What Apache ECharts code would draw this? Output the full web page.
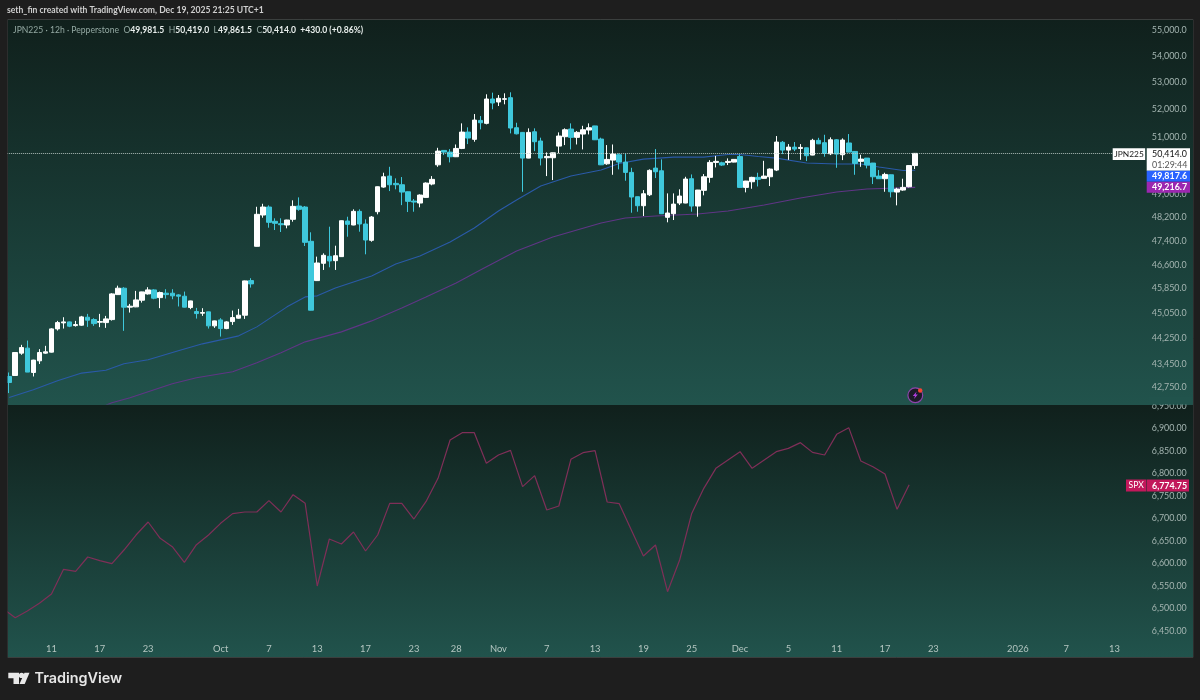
<!DOCTYPE html>
<html><head><meta charset="utf-8">
<style>html,body{margin:0;padding:0;background:#1e1e1e}#c{width:1200px;height:700px}</style>
<script src="https://cdn.jsdelivr.net/npm/echarts@6/dist/echarts.min.js"></script>
</head><body><div id="c"></div>
<script>
const tickBars=[7,15,23,35,43,51,59,67,74,81,89,97,105,113,121,129,137,145,153,167,175,183];
const tickLabels=['11','17','23','Oct','7','13','17','23','28','Nov','7','13','19','25','Dec','5','11','17','23','2026','7','13'];
const priceTicks=[55000,54000,53000,52000,51000,50000,49000,48200,47400,46600,45850,45050,44250,43450,42750];
const spxTicks=[6950,6900,6850,6800,6750,6700,6650,6600,6550,6500,6450];
const opens=[43068,43099,43784,43939,43190,43547,43784,43815,44540,44729,
44760,44644,44656,44908,44833,44750,44738,44833,45631,45837,
45228,45238,45450,45653,45782,45534,45676,45676,45621,45579,
45216,45088,45036,45078,44635,44823,44550,44770,44877,44972,
46084,47213,48267,48540,48053,47972,47928,48121,48574,48540,
47380,46084,46650,46880,46737,46870,48063,47928,48392,47962,
47413,48380,49229,49612,49357,49310,49066,48745,48677,48872,
49334,50008,50519,50459,50294,50590,51177,50915,51600,51493,
52386,52275,52375,52435,51334,51166,50246,51188,50855,50258,
50258,50673,51010,51287,50987,51105,51250,51400,50926,50044,
50175,50365,50104,49742,48895,48585,48962,49893,49798,48189,
48311,48677,48677,49520,48574,49115,49567,50093,50080,50093,
50104,50305,49218,49414,49567,49532,49588,49823,50810,50530,
50637,50590,50612,50353,50880,50795,50400,50900,50365,50785,
50483,50130,50246,50070,49612,49520,49658,49056,49125,49240,
49981.5];
const closes=[42886,43803,43957,43202,43569,43803,43825,44540,44738,44760,
44625,44675,44919,44814,44706,44770,44855,45653,45837,45228,
45259,45460,45718,45782,45515,45696,45631,45590,45579,45228,
45428,45024,45056,44635,44792,44550,44760,44897,44972,46074,
45977,48291,48540,48019,47985,47938,48097,48563,48461,47346,
45131,46660,46914,46727,46900,48073,47951,48392,47962,47423,
48199,49240,49588,49310,49310,49056,48735,48711,48952,49368,
49497,50494,50459,50294,50590,51177,50962,51613,51515,52386,
52238,52412,52397,51323,51115,50246,51166,50830,50246,50305,
50434,51034,51261,50987,51166,51261,51334,50900,50008,50200,
50388,50104,49742,48884,48585,48997,49812,49764,48311,48335,
48640,48918,49508,48574,49125,49588,50093,50130,50000,50130,
50200,49218,49438,49567,49497,49612,49858,50818,50530,50637,
50566,50626,50330,50880,50755,50412,50900,50388,50890,50459,
50058,50210,50000,49588,49520,49670,49066,49160,49218,49981.5,
50414];
const highs=[43190,43810,44041,44174,43580,43908,44010,44562,44792,44908,
44770,44792,44950,45014,44877,45014,44950,45676,45920,45870,
45332,45750,45725,45870,45805,45728,45805,45805,45644,45728,
45436,45205,45195,45085,44800,44877,44782,45119,45173,46085,
46161,48549,48652,48597,48155,48155,48105,48770,48872,48574,
47682,46870,46980,47871,47233,48080,48209,48461,48461,48121,
48233,49250,49730,49938,49532,49578,49075,48815,48976,49392,
49612,50612,50530,50566,50731,51493,51348,51833,51760,52560,
52621,52534,52597,52634,51515,51175,51312,51312,50975,50448,
50440,51166,51312,51493,51213,51405,51493,51405,50975,50710,
50731,50412,50412,49904,48900,49125,49848,50566,50200,49010,
49010,49150,49588,49670,49130,49682,50175,50324,50118,50235,
50205,50376,49445,49588,49730,50150,49882,51034,50855,50745,
50818,50745,50620,50935,50970,51080,50987,50926,50950,51105,
50494,50365,50250,50075,49823,49730,49665,49205,49520,50000,
50419];
const lows=[42567,43090,43732,43202,43068,43450,43763,43803,44487,44550,
44594,44612,44635,44603,44635,44594,44572,44801,45621,44478,
45056,45228,45374,45631,45482,45195,45502,45482,45250,45220,
45163,44865,44950,44550,44572,44299,44530,44666,44865,44855,
45857,47205,48175,47837,47759,47692,47816,48040,48413,47223,
45125,46070,46432,46520,46432,46860,47534,47920,47702,46947,
47366,48291,49205,49090,49150,48605,48369,48380,48530,48860,
49290,49938,50353,50093,50283,50566,50745,50830,51275,51457,
52006,52127,52190,51130,51093,49066,50240,50494,49987,49612,
49473,50412,50710,50555,50731,50555,51093,50890,50000,50008,
49658,49848,49449,48345,48380,48233,48918,49543,48300,48019,
48097,48608,48670,48380,48209,48942,49380,49916,49970,50000,
50095,49210,49045,49170,49250,49520,49264,49788,50388,50185,
50494,50185,50140,50345,50745,50294,50353,49904,50175,50450,
49658,49938,49882,49334,49515,49066,48872,48597,49100,49218,
49861.5];
const blueBars=[0,4,8,12,16,19,23,28,32,38,41,43,46,49,51,54,60,64,68,73,77,81,84,88,93,98,101,105,110,115,119,121,124,127,132,137,141,144,148,150];
const blueValues=[42435,42666,42938,43172,43257,43456,43578,43855,44072,44321,44603,44855,45238,45557,45590,45847,46236,46629,46892,47356,47827,48403,48780,49264,49612,49823,50052,50210,50282,50282,50371,50371,50300,50246,50070,50035,50035,49930,49806,49817.6];
const purpleBars=[16,17,20,27,31,37,41,45,49,55,60,65,69,74,78,84,90,94,98,102,107,114,119,125,131,137,142,150];
const purpleValues=[42206,42276,42426,42848,43028,43211,43486,43794,44134,44446,44792,45205,45557,46009,46432,47057,47524,47759,47995,48165,48233,48301,48403,48608,48849,49056,49160,49216.7];
const spxValues=[6499.5,6479.6,6494.4,6511.4,6532.1,6586.9,6582.4,6614.3,6606.1,6599.5,
6629.8,6663.1,6692,6655.7,6637.2,6602.4,6641.6,6663.1,6689,6710.5,
6714.2,6714.2,6739.3,6714.2,6752.6,6733.4,6549.9,6654.2,6643.1,6669.8,
6627.6,6663.1,6733.4,6733.4,6698.6,6737.1,6788.9,6874,6890.3,6890.3,
6822.2,6840.7,6851,6770.4,6794.8,6718.6,6727.5,6831.1,6845.9,6850.3,
6736.4,6732.7,6674.2,6616.5,6640.9,6537.3,6607.6,6711,6766.7,6811.1,
6829.6,6848.1,6811.1,6829.6,6848.1,6855.5,6868.1,6846.6,6840.7,6886.6,
6901.4,6827.4,6814.8,6798.5,6720.1,6774.75];
const categories=Array.from({length:190},(_,k)=>'bar'+(k-1));
const FONT='Lato,sans-serif';
const chart=echarts.init(document.getElementById('c'),null,{renderer:'canvas'});
const paneGrad=()=>new echarts.graphic.LinearGradient(0,0,0,1,[{offset:0,color:'#10201c'},{offset:1,color:'#21534c'}]);
const txt=(x,y,text,fill,size,weight,align,z)=>({type:'text',z:z||60,silent:true,style:{x,y,text,fill,font:(weight||400)+' '+(size||10)+'px '+FONT,textAlign:align||'left',textVerticalAlign:'middle'}});
const box=(x,y,w,h,fill,z)=>({type:'rect',z:z||55,silent:true,shape:{x,y,width:w,height:h},style:{fill}});
const graphicEls=[
 {type:'rect',z:-5,silent:true,shape:{x:7.5,y:19.5,width:1185.5,height:638},style:{fill:'#21534c',stroke:'#3b3f3e',lineWidth:1}},
 {type:'rect',z:-4,silent:true,shape:{x:8,y:20,width:1185,height:384.5},style:{fill:paneGrad()}},
 {type:'rect',z:-4,silent:true,shape:{x:8,y:405,width:1185,height:252},style:{fill:paneGrad()}},
 box(0,19,7.5,640,'#1e1e1e',40),
 box(1149,397,43,7.5,'#21534c',40),
 {type:'text',z:60,silent:true,style:{x:7,y:10,text:'seth_fin created with TradingView.com, Dec 19, 2025 21:25 UTC+1',fill:'#cfcfcf',font:'700 8.6px '+FONT,textVerticalAlign:'middle'}},
 {type:'text',z:60,silent:true,style:{x:13,y:30,textVerticalAlign:'middle',
   text:'{g|JPN225 · 12h · Pepperstone  O}{w|49,981.5}{g|  H}{w|50,419.0}{g|  L}{w|49,861.5}{g|  C}{w|50,414.0}{w|  +430.0 (+0.86%)}',
   rich:{g:{fill:'#93a8a2',font:'400 8.6px '+FONT},w:{fill:'#e8eeec',font:'700 8.6px '+FONT}}}},
 box(1112.7,148.3,32.5,11.7,'#ffffff'),
 txt(1129,154.2,'JPN225','#1a1a1a',8.4,400,'center'),
 box(1146.7,148.3,43.3,22.4,'#ffffff'),
 txt(1152,154.2,'50,414.0','#111111',8.9,400),
 txt(1152,164.8,'01:29:44','#555555',8.9,400),
 box(1146.7,170.7,43.3,11,'#2962ff'),
 txt(1152,176.2,'49,817.6','#ffffff',8.9,700),
 box(1146.7,181.7,43.3,11,'#9c27b0'),
 txt(1152,187.2,'49,216.7','#ffffff',8.9,700),
 box(1126,479.5,20.5,12,'#c2185b'),
 txt(1136.2,485.7,'SPX','#ffffff',8.6,400,'center'),
 box(1147,479.5,42,12,'#c2185b'),
 txt(1152,485.7,'6,774.75','#ffffff',8.9,700),
 {type:'circle',z:60,silent:true,shape:{cx:915.3,cy:395.3,r:7.4},style:{fill:'#1b1a26',stroke:'#8e44ad',lineWidth:1.2}},
 {type:'polygon',z:61,silent:true,shape:{points:[[916.6,391.5],[912.8,396],[915,396],[914,399],[917.8,394.6],[915.6,394.6]]},style:{fill:'#b03fe0'}},
 {type:'circle',z:62,silent:true,shape:{cx:920.2,cy:390.5,r:2.2},style:{fill:'#f44336'}},
 {type:'polygon',z:60,silent:true,shape:{points:[[8.3,672.7],[19,672.7],[19,684],[13.5,684],[13.5,678.2],[8.3,678.2]]},style:{fill:'#e8e8e8'}},
 {type:'circle',z:60,silent:true,shape:{cx:21.6,cy:675.4,r:2.7},style:{fill:'#e8e8e8'}},
 {type:'polygon',z:60,silent:true,shape:{points:[[29.5,672.7],[24.7,684],[19.5,684],[24.5,672.7]]},style:{fill:'#e8e8e8'}},
 {type:'text',z:60,silent:true,style:{x:34.5,y:678.5,text:'TradingView',fill:'#e6e6e6',font:'600 14.4px Inter,sans-serif',textVerticalAlign:'middle'}}
];
const tickMap={};tickBars.forEach((b,i)=>tickMap[b+1]=tickLabels[i]);
const gridLeft=0.14,gridWidth=1147.6;
chart.setOption({
 animation:false,backgroundColor:'#1e1e1e',
 grid:[{left:gridLeft,width:gridWidth,top:20,height:384},{left:gridLeft,width:gridWidth,top:405,height:252}],
 xAxis:[
  {type:'category',gridIndex:0,data:categories,axisLine:{show:false},axisTick:{show:false},axisLabel:{show:false},splitLine:{show:false}},
  {type:'category',gridIndex:1,data:categories,axisLine:{show:false},axisTick:{show:false},splitLine:{show:false},
   axisLabel:{inside:true,margin:4,interval:(k)=>tickMap[k]!==undefined,formatter:(v,k)=>tickMap[k]||'',color:'#b4c6c1',fontSize:9.4,fontFamily:FONT,verticalAlign:'bottom'}}
 ],
 yAxis:[
  {type:'log',logBase:10,gridIndex:0,position:'right',min:42240,max:55390,axisLine:{show:false},axisTick:{show:false},splitLine:{show:false},minorTick:{show:false},minorSplitLine:{show:false},
   axisLabel:{customValues:priceTicks,margin:4,color:'#a4b5b1',fontSize:8.9,fontFamily:FONT,formatter:v=>Number(v).toLocaleString('en-US',{minimumFractionDigits:1,maximumFractionDigits:1})}},
  {type:'value',gridIndex:1,position:'right',min:6392.3,max:6951.7,axisLine:{show:false},axisTick:{show:false},splitLine:{show:false},
   axisLabel:{customValues:spxTicks,margin:4,color:'#a4b5b1',fontSize:8.9,fontFamily:FONT,formatter:v=>Number(v).toLocaleString('en-US',{minimumFractionDigits:2,maximumFractionDigits:2})}}
 ],
 series:[
  {type:'line',name:'MA slow',xAxisIndex:0,yAxisIndex:0,z:2,showSymbol:false,symbol:'none',lineStyle:{color:'#603586',width:1.1},data:purpleBars.map((b,i)=>[b+1,purpleValues[i]])},
  {type:'line',name:'MA fast',xAxisIndex:0,yAxisIndex:0,z:2,showSymbol:false,symbol:'none',lineStyle:{color:'#2a5aa8',width:1.1},data:blueBars.map((b,i)=>[b+1,blueValues[i]])},
  {type:'candlestick',name:'JPN225',xAxisIndex:0,yAxisIndex:0,z:3,barWidth:5,
   itemStyle:{color:'#ffffff',color0:'#3fc8dc',borderColor:'#ffffff',borderColor0:'#3fc8dc',borderWidth:1},
   data:[['-','-','-','-']].concat(opens.map((o,i)=>[o,closes[i],lows[i],highs[i]])),
   markLine:{silent:true,symbol:'none',animation:false,label:{show:false},lineStyle:{type:'dotted',color:'#c6d3cf',width:1,opacity:0.85},
     data:[[{coord:[0,closes[closes.length-1]]},{coord:[184,closes[closes.length-1]]}]]}},
  {type:'line',name:'SPX',xAxisIndex:1,yAxisIndex:1,z:2,showSymbol:false,symbol:'none',lineStyle:{color:'#7f2f58',width:1.2},data:spxValues.map((v,j)=>[2*j,v])}
 ],
 graphic:{elements:graphicEls}
});
</script></body></html>
